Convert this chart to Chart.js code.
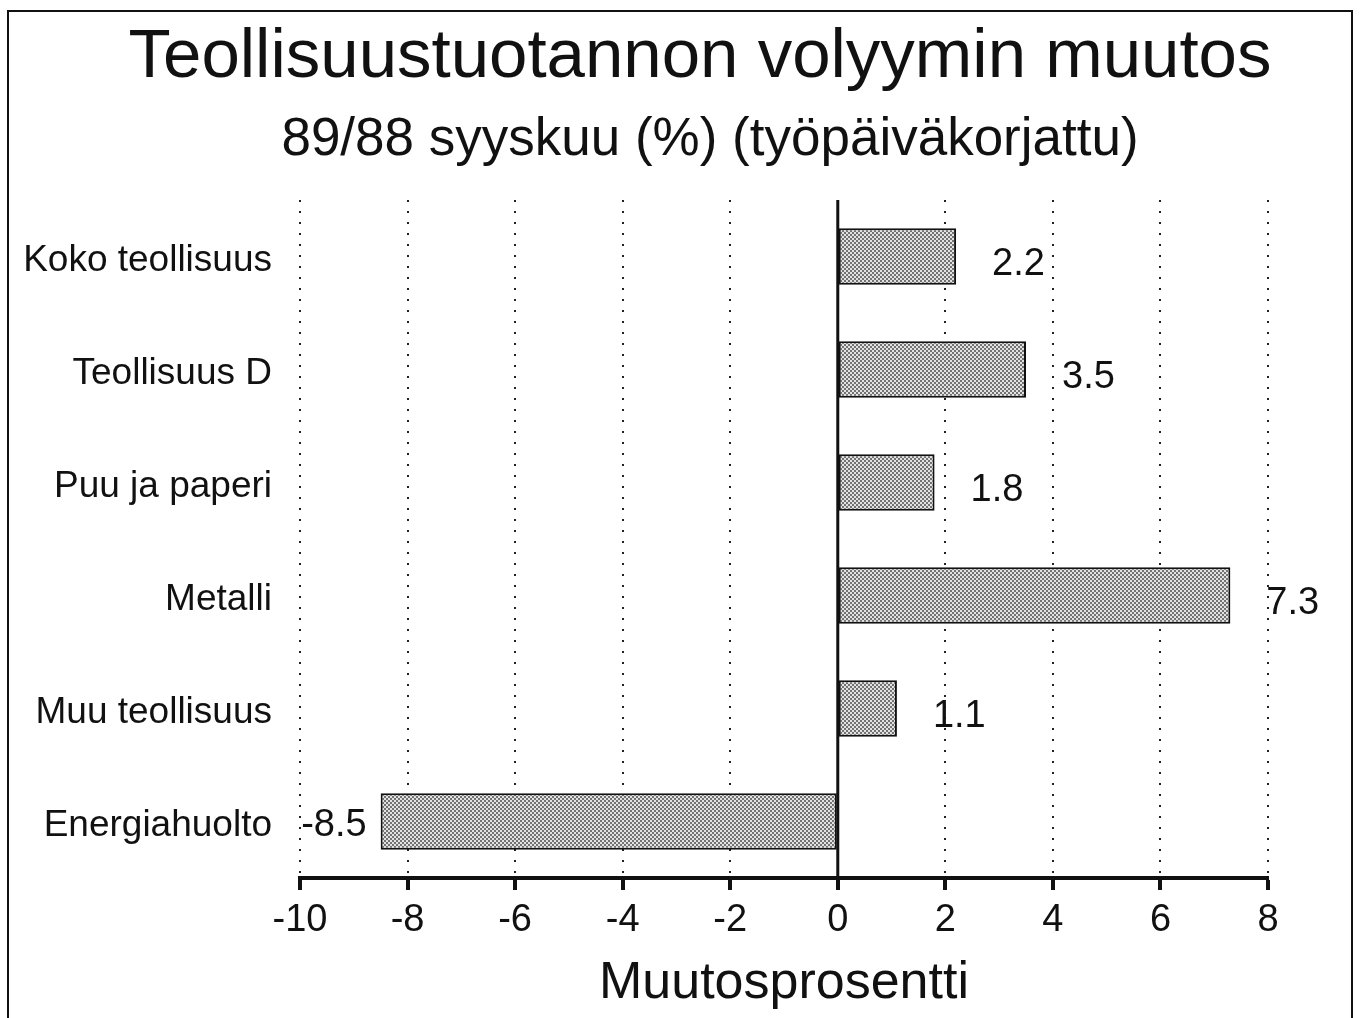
<!DOCTYPE html>
<html>
<head>
<meta charset="utf-8">
<script src="https://cdn.jsdelivr.net/npm/chart.js@4"></script>
<style>
  body { margin: 0; background: #fff; }
  #wrap { width: 1360px; height: 1018px; position: relative; }
</style>
</head>
<body>
<div id="wrap"><canvas id="chart"></canvas></div>
<script>
// data
const categories = ['Koko teollisuus', 'Teollisuus D', 'Puu ja paperi', 'Metalli', 'Muu teollisuus', 'Energiahuolto'];
const changes = [2.2, 3.5, 1.8, 7.3, 1.1, -8.5];
const xMin = -10;
const xMax = 8;
const xStep = 2;
const titleText = 'Teollisuustuotannon volyymin muutos';
const subtitleText = '89/88 syyskuu (%) (työpäiväkorjattu)';

const FONT = '"Liberation Sans", Arial, Helvetica, sans-serif';

// stippled grey fill like the printed bars
function makeStipple() {
  const c = document.createElement('canvas');
  c.width = 4; c.height = 4;
  const g = c.getContext('2d');
  g.fillStyle = '#e2e2e2';
  g.fillRect(0, 0, 4, 4);
  g.fillStyle = '#737373';
  g.fillRect(0, 0, 2, 2);
  g.fillRect(2, 2, 2, 2);
  return g.createPattern(c, 'repeat');
}

// page frame and the two heading lines (title box is off-centre in the original)
const frame = {
  id: 'frame',
  afterDraw(chart) {
    const ctx = chart.ctx;
    ctx.save();
    ctx.strokeStyle = '#111';
    ctx.lineWidth = 2;
    ctx.strokeRect(8, 11, 1344, 1040);
    ctx.fillStyle = '#111';
    ctx.textAlign = 'center';
    ctx.textBaseline = 'alphabetic';
    ctx.font = '69px ' + FONT;
    ctx.fillText(titleText, 700, 77);
    ctx.font = '53px ' + FONT;
    ctx.fillText(subtitleText, 710, 155);
    ctx.restore();
  }
};

const zeroLine = {
  id: 'zeroLine',
  afterDatasetsDraw(chart) {
    const x = chart.scales.x.getPixelForValue(0);
    const ctx = chart.ctx;
    ctx.save();
    ctx.strokeStyle = '#111';
    ctx.lineWidth = 3;
    ctx.beginPath();
    ctx.moveTo(x, chart.chartArea.top);
    ctx.lineTo(x, chart.chartArea.bottom);
    ctx.stroke();
    ctx.restore();
  }
};

const valueLabels = {
  id: 'valueLabels',
  afterDatasetsDraw(chart) {
    const ctx = chart.ctx;
    const meta = chart.getDatasetMeta(0);
    ctx.save();
    ctx.font = '38px ' + FONT;
    ctx.fillStyle = '#111';
    ctx.textBaseline = 'middle';
    meta.data.forEach((bar, i) => {
      const v = changes[i];
      if (v >= 0) {
        ctx.textAlign = 'left';
        ctx.fillText(v.toFixed(1), bar.x + 36, bar.y + 8);
      } else {
        ctx.textAlign = 'right';
        ctx.fillText(v.toFixed(1), bar.x - 14, bar.y + 4);
      }
    });
    ctx.restore();
  }
};

const ctx = document.getElementById('chart').getContext('2d');
new Chart(ctx, {
  type: 'bar',
  data: {
    labels: categories,
    datasets: [{
      data: changes,
      backgroundColor: makeStipple(),
      borderColor: '#111',
      borderWidth: 2,
      borderSkipped: false,
      barPercentage: 0.5,
      categoryPercentage: 1
    }]
  },
  options: {
    indexAxis: 'y',
    responsive: true,
    maintainAspectRatio: false,
    animation: false,
    layout: { padding: { top: 200, right: 92, bottom: 0, left: 0 } },
    plugins: {
      legend: { display: false },
      tooltip: { enabled: false }
    },
    scales: {
      x: {
        min: xMin,
        max: xMax,
        ticks: {
          stepSize: xStep,
          color: '#111',
          padding: 8,
          font: { family: FONT, size: 38 },
          callback: v => String(v)
        },
        grid: {
          color: '#222',
          lineWidth: 2,
          drawTicks: true,
          tickLength: 12,
          tickWidth: 4,
          tickColor: '#111',
          tickBorderDash: []
        },
        border: { display: true, color: '#111', width: 4, dash: [2, 9] },
        title: {
          display: true,
          text: 'Muutosprosentti',
          color: '#111',
          font: { family: FONT, size: 52 },
          padding: { top: 0, bottom: 3 }
        },
        afterFit(scale) { scale.height = 140; }
      },
      y: {
        ticks: {
          color: '#111',
          padding: 28,
          labelOffset: 4,
          font: { family: FONT, size: 37 }
        },
        grid: { display: false, drawTicks: false },
        border: { display: false },
        afterFit(scale) { scale.width = 300; }
      }
    }
  },
  plugins: [frame, zeroLine, valueLabels]
});
</script>
</body>
</html>
